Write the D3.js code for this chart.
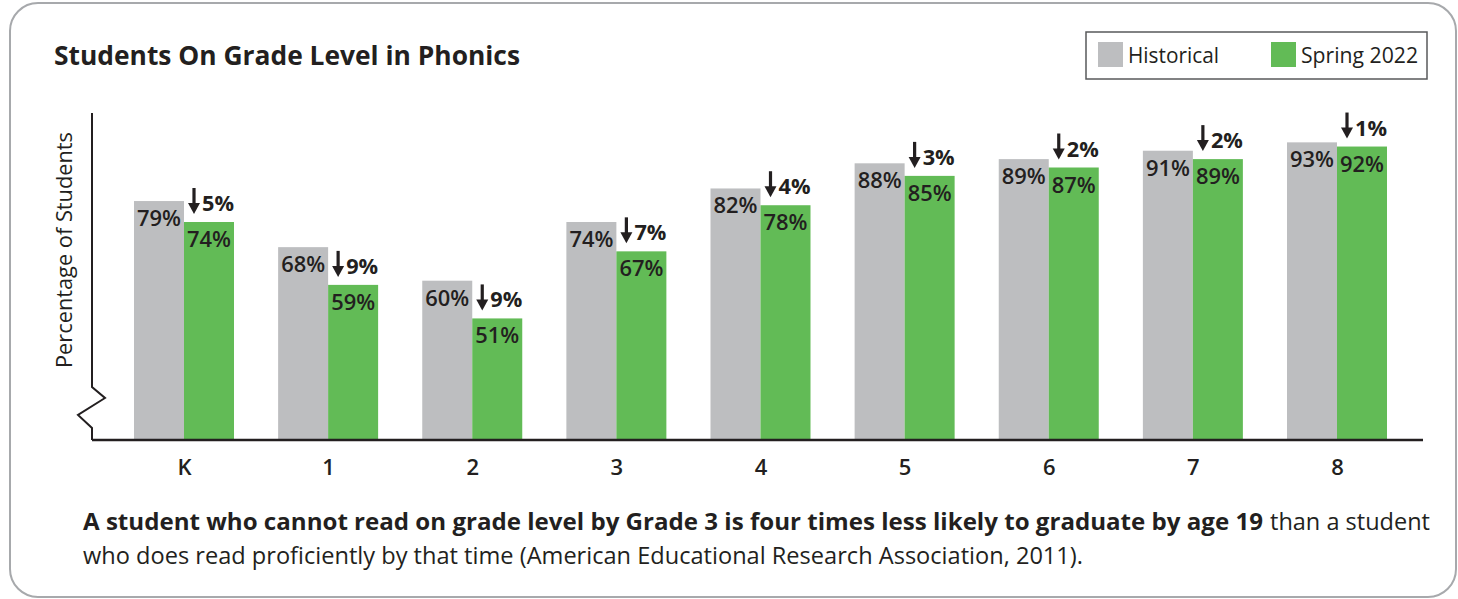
<!DOCTYPE html>
<html>
<head>
<meta charset="utf-8">
<script src="https://cdn.jsdelivr.net/npm/d3@7/dist/d3.min.js"></script>
<style>
  html, body { margin: 0; padding: 0; background: #fff; }
  svg { display: block; }
  text { font-family: "Open Sans", "Noto Sans", sans-serif; fill: #231f20; }
</style>
</head>
<body>
<svg id="chart" width="1458" height="599"></svg>
<script>
// Grades and percentage of students on grade level in phonics
const grades = ["K", "1", "2", "3", "4", "5", "6", "7", "8"];
const historical = [79, 68, 60, 74, 82, 88, 89, 91, 93];
const spring2022 = [74, 59, 51, 67, 78, 85, 87, 89, 92];
const seriesNames = ["Historical", "Spring 2022"];
const seriesColors = ["#bdbec0", "#62bb56"];

const svg = d3.select("#chart");

// Rounded card outline
svg.append("rect")
  .attr("x", 10).attr("y", 3)
  .attr("width", 1446).attr("height", 594)
  .attr("rx", 28).attr("ry", 28)
  .attr("fill", "#fff")
  .attr("stroke", "#a7a9ac")
  .attr("stroke-width", 2);

// Title
svg.append("text")
  .attr("x", 54).attr("y", 65)
  .attr("font-size", 27).attr("font-weight", 700)
  .attr("textLength", 466).attr("lengthAdjust", "spacingAndGlyphs")
  .text("Students On Grade Level in Phonics");

// Plot area
const plot = { left: 92, right: 1423, top: 113, bottom: 440 };

const x = d3.scalePoint()
  .domain(grades)
  .range([184, 1337]);

const sub = d3.scaleBand()
  .domain(seriesNames)
  .range([-50, 50])
  .paddingInner(0);

// Axis is broken below the bars, so the baseline sits above zero
const y = d3.scaleLinear()
  .domain([22, 100])
  .range([plot.bottom, plot.top]);

const rows = grades.map((g, i) => ({
  grade: g,
  values: [historical[i], spring2022[i]],
  decline: historical[i] - spring2022[i]
}));

const groups = svg.append("g")
  .selectAll("g")
  .data(rows)
  .join("g")
  .attr("transform", d => `translate(${x(d.grade)},0)`);

// Bars
groups.selectAll("rect")
  .data(d => d.values.map((v, j) => ({ v, name: seriesNames[j], color: seriesColors[j] })))
  .join("rect")
  .attr("x", d => sub(d.name))
  .attr("y", d => y(d.v))
  .attr("width", sub.bandwidth())
  .attr("height", d => plot.bottom - y(d.v))
  .attr("fill", d => d.color);

// Value labels inside the bar tops
groups.selectAll("text.val")
  .data(d => d.values.map((v, j) => ({ v, name: seriesNames[j] })))
  .join("text")
  .attr("class", "val")
  .attr("x", d => sub(d.name) + sub.bandwidth() / 2)
  .attr("y", d => y(d.v) + 25)
  .attr("text-anchor", "middle")
  .attr("font-size", 22)
  .attr("font-weight", 600)
  .attr("textLength", 44).attr("lengthAdjust", "spacingAndGlyphs")
  .text(d => d.v + "%");

// Decline arrows above the Spring 2022 bar
const arrowGroups = groups.append("g")
  .attr("transform", d => `translate(${sub("Spring 2022")},${y(d.values[1])})`);

arrowGroups.append("path")
  .attr("d", "M10,-34 L10,-18")
  .attr("stroke", "#231f20")
  .attr("stroke-width", 3.2);

arrowGroups.append("path")
  .attr("d", "M4,-19 L16,-19 L10,-8 Z")
  .attr("fill", "#231f20");

arrowGroups.append("text")
  .attr("x", 18)
  .attr("y", -11)
  .attr("font-size", 21)
  .attr("font-weight", 700)
  .attr("textLength", 32).attr("lengthAdjust", "spacingAndGlyphs")
  .text(d => d.decline + "%");

// Y axis with break zigzag
const axisLine = d3.line();
svg.append("path")
  .attr("d", axisLine([
    [plot.left, plot.top],
    [plot.left, 387],
    [plot.left + 13, 398],
    [plot.left - 14, 415],
    [plot.left, 428],
    [plot.left, plot.bottom]
  ]))
  .attr("fill", "none")
  .attr("stroke", "#231f20")
  .attr("stroke-width", 2);

// Baseline
svg.append("path")
  .attr("d", axisLine([[plot.left, plot.bottom], [plot.right, plot.bottom]]))
  .attr("stroke", "#231f20")
  .attr("stroke-width", 2.5);

// X axis labels
const xAxis = d3.axisBottom(x).tickSize(0).tickPadding(0);
const xg = svg.append("g")
  .attr("transform", `translate(0,${plot.bottom})`)
  .call(xAxis);
xg.select(".domain").remove();
xg.selectAll("text")
  .attr("y", 35)
  .attr("dy", null)
  .attr("font-size", 22)
  .attr("font-weight", 600)
  .attr("fill", "#231f20")
  .style("font-family", "'Open Sans', 'Noto Sans', sans-serif");

// Y axis title
svg.append("text")
  .attr("transform", "translate(72,250) rotate(-90)")
  .attr("text-anchor", "middle")
  .attr("font-size", 21)
  .attr("textLength", 236).attr("lengthAdjust", "spacingAndGlyphs")
  .text("Percentage of Students");

// Legend
const legend = svg.append("g");
legend.append("rect")
  .attr("x", 1086).attr("y", 32)
  .attr("width", 341).attr("height", 47)
  .attr("fill", "#fff")
  .attr("stroke", "#58595b")
  .attr("stroke-width", 1.5);

const legendItems = [
  { name: seriesNames[0], color: seriesColors[0], sx: 1098, tx: 1128, tw: 91 },
  { name: seriesNames[1], color: seriesColors[1], sx: 1271, tx: 1301, tw: 117 }
];
legendItems.forEach(it => {
  legend.append("rect")
    .attr("x", it.sx).attr("y", 42)
    .attr("width", 25).attr("height", 25)
    .attr("fill", it.color);
  legend.append("text")
    .attr("x", it.tx).attr("y", 63)
    .attr("font-size", 22)
    .attr("textLength", it.tw).attr("lengthAdjust", "spacingAndGlyphs")
    .text(it.name);
});

// Footnote
const note = svg.append("g");
note.append("text")
  .attr("x", 83).attr("y", 530)
  .attr("font-size", 23).attr("font-weight", 700)
  .attr("textLength", 1180).attr("lengthAdjust", "spacingAndGlyphs")
  .text("A student who cannot read on grade level by Grade 3 is four times less likely to graduate by age 19");
note.append("text")
  .attr("x", 1270).attr("y", 530)
  .attr("font-size", 23)
  .attr("textLength", 160).attr("lengthAdjust", "spacingAndGlyphs")
  .text("than a student");
note.append("text")
  .attr("x", 83).attr("y", 564)
  .attr("font-size", 23)
  .attr("textLength", 1000).attr("lengthAdjust", "spacingAndGlyphs")
  .text("who does read proficiently by that time (American Educational Research Association, 2011).");
</script>
</body>
</html>
